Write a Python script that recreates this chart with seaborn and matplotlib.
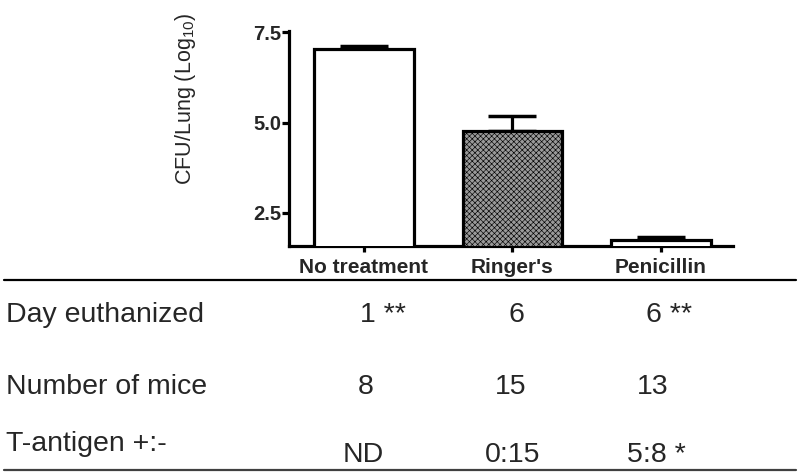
import matplotlib
matplotlib.use("Agg")
import matplotlib.pyplot as plt
from matplotlib.lines import Line2D
import seaborn as sns
import pandas as pd

# ---- data ----
categories = ["No treatment", "Ringer's", "Penicillin"]
cfu_mean = [7.03, 4.77, 1.75]
cfu_err_upper = [0.08, 0.42, 0.08]
bar_colors = ["white", "#9a9a9a", "white"]
bar_hatches = ["", "xxxxxx", ""]
y_ticks = [2.5, 5.0, 7.5]
y_tick_labels = ["2.5", "5.0", "7.5"]

row_labels = ["Day euthanized", "Number of mice", "T-antigen +:-"]
day_euthanized = ["1 **", "6", "6 **"]
number_of_mice = ["8", "15", "13"]
t_antigen = ["ND", "0:15", "5:8 *"]

# ---- style ----
sns.set_theme(style="white")
plt.rcParams["font.family"] = ["Liberation Sans", "DejaVu Sans"]
plt.rcParams["mathtext.fontset"] = "custom"
plt.rcParams["mathtext.rm"] = "Liberation Sans"
plt.rcParams["mathtext.it"] = "Liberation Sans:italic"
plt.rcParams["mathtext.bf"] = "Liberation Sans:bold"
plt.rcParams["hatch.linewidth"] = 0.45
plt.rcParams["hatch.color"] = "#444444"

W, H = 800, 476
fig = plt.figure(figsize=(8, 4.76), dpi=100)
ax_left, ax_right, ax_top, ax_bottom = 289, 733, 31, 245.5
ax = fig.add_axes([ax_left / W, 1 - ax_bottom / H, (ax_right - ax_left) / W, (ax_bottom - ax_top) / H])

df = pd.DataFrame({"group": categories, "cfu": cfu_mean})
sns.barplot(data=df, x="group", y="cfu", hue="group", palette=bar_colors, legend=False,
            width=0.67, edgecolor="black", linewidth=2.3, ax=ax, zorder=3)
for patch, h in zip(ax.patches, bar_hatches):
    patch.set_hatch(h)

ax.errorbar(x=list(range(len(categories))), y=cfu_mean,
            yerr=[[0] * len(categories), cfu_err_upper],
            fmt="none", ecolor="black", elinewidth=2.3, capsize=17.5, capthick=2.5, zorder=2)

ax.set_xlim(-0.505, 2.485)
ax.set_ylim(1.6, 7.53)
ax.set_yticks(y_ticks)
ax.set_yticklabels(y_tick_labels)
ax.set_xlabel("")
ax.set_ylabel("")
for s in ["top", "right"]:
    ax.spines[s].set_visible(False)
for s in ["left", "bottom"]:
    ax.spines[s].set_linewidth(2.3)
    ax.spines[s].set_color("black")
ax.tick_params(axis="y", direction="out", length=5, width=2.3, pad=0.5,
               labelsize=14.5, left=True, color="black")
ax.tick_params(axis="x", direction="out", length=4, width=2.3, pad=5,
               labelsize=15, bottom=True, color="black")
for lab in ax.get_xticklabels() + ax.get_yticklabels():
    lab.set_fontweight("bold")

fig.text(186 / W, 1 - 99 / H, r"CFU/Lung (Log$_\mathregular{10}$)", rotation=90,
         ha="center", va="center", fontsize=15.5)

# ---- table below ----
def fx(x):
    return x / W

def fy(y):
    return 1 - y / H

fig.add_artist(Line2D([fx(4), fx(796)], [fy(280), fy(280)], color="black", lw=1.6))
fig.add_artist(Line2D([fx(4), fx(796)], [fy(470), fy(470)], color="#404040", lw=1.6))

tfs = 20.5
label_baselines = [321.5, 394.5, 451]
value_baselines = [321.5, 394.5, 462.5]
value_x = [[360, 509, 646], [358, 495, 637], [343, 485, 627]]
rows = [day_euthanized, number_of_mice, t_antigen]
for i, lab in enumerate(row_labels):
    fig.text(fx(6), fy(label_baselines[i]), lab, ha="left", va="baseline", fontsize=tfs)
    for j, val in enumerate(rows[i]):
        fig.text(fx(value_x[i][j]), fy(value_baselines[i]), val, ha="left",
                 va="baseline", fontsize=tfs)

fig.savefig("out.png", dpi=100)
